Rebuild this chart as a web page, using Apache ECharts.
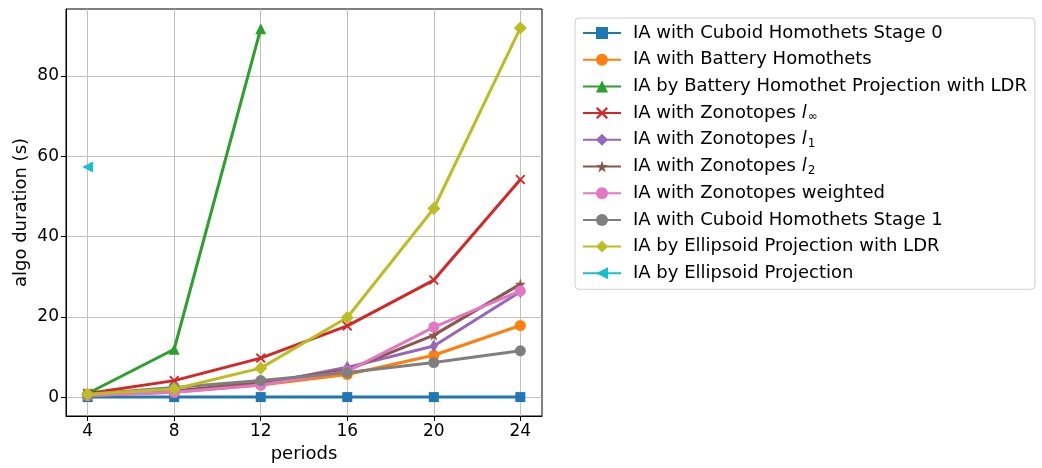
<!DOCTYPE html>
<html><head><meta charset="utf-8">
<script src="https://cdn.jsdelivr.net/npm/echarts@6/dist/echarts.min.js"></script>
<style>html,body{margin:0;padding:0;background:#fff}#c{width:1042px;height:468px}</style>
</head><body><div id="c"></div>
<script>
const periods = [4, 8, 12, 16, 20, 24];
const yTicks = [0, 20, 40, 60, 80];
const cuboid0 = [0.1, 0.1, 0.1, 0.1, 0.1, 0.1];
const battery = [0.5, 1.3, 3.1, 5.7, 10.5, 17.9];
const batteryLDR = [1.0, 12.0, 91.7];
const zonoInf = [1.0, 4.2, 9.8, 17.8, 29.2, 54.2];
const zonoL1 = [0.6, 1.4, 3.3, 7.5, 12.8, 26.3];
const zonoL2 = [0.7, 1.6, 3.8, 6.8, 15.5, 28.2];
const zonoW = [0.5, 1.3, 3.1, 6.5, 17.5, 26.5];
const cuboid1 = [0.8, 2.5, 4.2, 6.2, 8.7, 11.6];
const ellipsLDR = [0.8, 2.1, 7.3, 19.9, 47.0, 91.9];
const ellips = [57.3];

const names = [
  'IA with Cuboid Homothets Stage 0',
  'IA with Battery Homothets',
  'IA by Battery Homothet Projection with LDR',
  'IA with Zonotopes {i|l}{s|∞}',
  'IA with Zonotopes {i|l}{s|1}',
  'IA with Zonotopes {i|l}{s|2}',
  'IA with Zonotopes weighted',
  'IA with Cuboid Homothets Stage 1',
  'IA by Ellipsoid Projection with LDR',
  'IA by Ellipsoid Projection'
];
const colors = ['#1f77b4','#ff7f0e','#2ca02c','#d62728','#9467bd','#8c564b','#e377c2','#7f7f7f','#bcbd22','#17becf'];
const values = [cuboid0, battery, batteryLDR, zonoInf, zonoL1, zonoL2, zonoW, cuboid1, ellipsLDR, ellips];

const STAR = 'path://M50,0L61.17,34.63L97.55,34.55L68.07,55.87L79.39,90.45L50,69L20.61,90.45L31.93,55.87L2.45,34.55L38.83,34.63Z';
const XMARK = 'path://M0,1.3L1.3,0L5,3.7L8.7,0L10,1.3L6.3,5L10,8.7L8.7,10L5,6.3L1.3,10L0,8.7L3.7,5Z';
const symbols = [
  ['rect', 10], ['circle', 11], ['triangle', 11], [XMARK, 10],
  ['path://M3,0L6,5L3,10L0,5Z', [8, 13]], [STAR, 11], ['circle', 11], ['circle', 11],
  ['path://M5,0L10,5L5,10L0,5Z', 13], ['path://M0,5L10,0L10,10Z', 11]
];

const series = names.map((n, i) => ({
  name: n,
  type: 'line',
  data: values[i].map((v, k) => [periods[k], v]),
  symbol: symbols[i][0],
  symbolSize: symbols[i][1],
  showAllSymbol: true,
  color: colors[i],
  lineStyle: { width: 3, color: colors[i] },
  itemStyle: { color: colors[i] },
  emphasis: { disabled: true },
  animation: false
}));

const font = 'DejaVu Sans';
const chart = echarts.init(document.getElementById('c'), null, { renderer: 'canvas' });
chart.setOption({
  animation: false,
  grid: { left: 66, right: 500, top: 9, bottom: 47, show: true, borderColor: '#000', borderWidth: 1, backgroundColor: 'transparent' },
  xAxis: {
    type: 'value', min: 3, max: 25,
    name: 'periods', nameLocation: 'middle', nameGap: 29,
    nameTextStyle: { fontFamily: font, fontSize: 18, color: '#000' },
    axisLine: { show: true, onZero: false, lineStyle: { color: '#000', width: 1 } },
    axisTick: { show: true, length: 5, customValues: periods, lineStyle: { color: '#000' } },
    axisLabel: { customValues: periods, fontFamily: font, fontSize: 17, color: '#000', margin: 7 },
    splitLine: { show: true, customValues: periods, lineStyle: { color: '#c0c0c0', width: 1 } }
  },
  yAxis: {
    type: 'value', min: -4.6, max: 96.6,
    name: 'algo duration (s)', nameLocation: 'middle', nameGap: 36,
    nameTextStyle: { fontFamily: font, fontSize: 18, color: '#000' },
    axisLine: { show: true, onZero: false, lineStyle: { color: '#000', width: 1 } },
    axisTick: { show: true, length: 5, customValues: yTicks, lineStyle: { color: '#000' } },
    axisLabel: { customValues: yTicks, fontFamily: font, fontSize: 17, color: '#000', margin: 7 },
    splitLine: { show: true, customValues: yTicks, lineStyle: { color: '#c0c0c0', width: 1 } }
  },
  legend: {
    orient: 'vertical', left: 575, top: 18,
    padding: [5, 8, 6, 7],
    itemWidth: 38, itemHeight: 15, itemGap: 6.7,
    backgroundColor: '#fff', borderColor: '#d0d0d0', borderWidth: 1, borderRadius: 4,
    textStyle: {
      fontFamily: font, fontSize: 18, color: '#000', lineHeight: 20, padding: [0, 0, 0, 7],
      rich: {
        i: { fontFamily: font, fontSize: 18, fontStyle: 'italic', color: '#000', lineHeight: 20 },
        s: { fontFamily: font, fontSize: 12, color: '#000', lineHeight: 20, verticalAlign: 'bottom', padding: [7, 0, 0, 1] }
      }
    },
    data: names
  },
  series: series
});
</script></body></html>
